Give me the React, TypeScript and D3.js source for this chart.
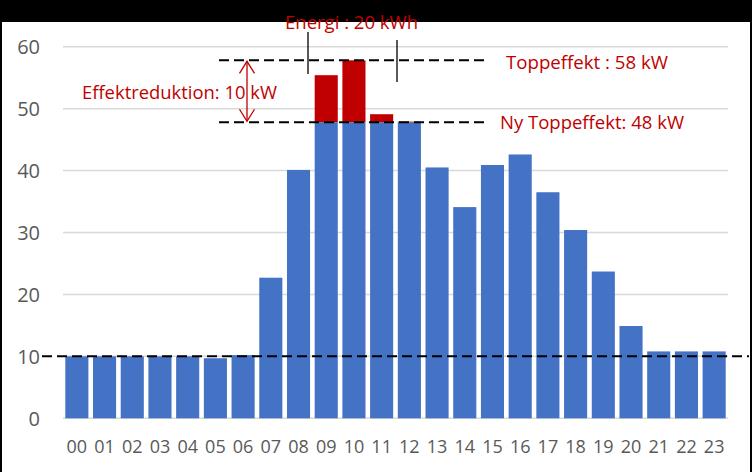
import React from "react";
import * as d3 from "d3";

const hours = ["00","01","02","03","04","05","06","07","08","09","10","11","12","13","14","15","16","17","18","19","20","21","22","23"];
const load = [10.0,10.0,10.0,10.0,10.0,9.7,10.2,22.7,40.1,55.4,57.8,49.1,47.9,40.5,34.1,40.9,42.6,36.5,30.4,23.7,14.9,10.8,10.8,10.8];
const newPeak = 47.8;
const oldPeak = 57.8;
const baseLoad = 10;
const yTicks = [0,10,20,30,40,50,60];

const W = 752, H = 472;
const FONT = "'Open Sans', 'Noto Sans', sans-serif";
const BLUE = "#4472C4";
const RED = "#C00000";
const GRAY = "#595959";

export default function App() {
  const x = d3.scaleBand<string>().domain(hours).range([63, 728]).paddingInner(1/6).paddingOuter(1/12);
  const y = d3.scaleLinear().domain([0, 60]).range([418.3, 46.7]);

  const rows = hours.map((h, i) => ({
    h,
    v: load[i],
    blue: load[i] > newPeak ? newPeak : load[i],
    red: load[i] > newPeak ? load[i] - newPeak : 0,
  }));

  const arrowX = 247;
  const yTop = y(oldPeak);
  const yBot = y(newPeak);

  return (
    <svg width={W} height={H} style={{ position: "absolute", left: 0, top: 0, background: "#fff" }} fontFamily={FONT}>
      <rect x={0} y={0} width={W} height={H} fill="#fff" />
      {/* gridlines */}
      {yTicks.map(t => (
        <line key={t} x1={63} x2={728} y1={y(t)} y2={y(t)} stroke="#d9d9d9" strokeWidth={1.5} />
      ))}
      {/* y tick labels */}
      {yTicks.map(t => (
        <text key={"yl" + t} x={40} y={y(t)} dy="0.36em" textAnchor="end" fontSize={20} fill={GRAY}>{t}</text>
      ))}
      {/* bars */}
      {rows.map(r => (
        <g key={r.h}>
          <rect x={x(r.h)} width={x.bandwidth()} y={y(r.blue)} height={y(0) - y(r.blue)} fill={BLUE} />
          {r.red > 0 && (
            <rect x={x(r.h)} width={x.bandwidth()} y={y(r.blue + r.red)} height={y(r.blue) - y(r.blue + r.red)} fill={RED} />
          )}
        </g>
      ))}
      {/* x tick labels */}
      {hours.map(h => (
        <text key={"xl" + h} x={(x(h) as number) + x.bandwidth() / 2} y={453} textAnchor="middle" fontSize={18} fill={GRAY}>{h}</text>
      ))}
      {/* dashed reference lines */}
      <line x1={219} x2={488} y1={yTop} y2={yTop} stroke="#000" strokeWidth={2} strokeDasharray="10 5" />
      <line x1={219} x2={488} y1={yBot} y2={yBot} stroke="#000" strokeWidth={2} strokeDasharray="10 5" />
      <line x1={42} x2={749} y1={y(baseLoad)} y2={y(baseLoad)} stroke="#000" strokeWidth={2} strokeDasharray="10 5" />
      {/* double arrow */}
      <g stroke={RED} strokeWidth={1.3} fill="none">
        <line x1={arrowX} x2={arrowX} y1={yTop + 1} y2={yBot - 1} />
        <polyline points={`${arrowX - 7.5},${yTop + 13} ${arrowX},${yTop + 1} ${arrowX + 7.5},${yTop + 13}`} />
        <polyline points={`${arrowX - 7.5},${yBot - 13} ${arrowX},${yBot - 1} ${arrowX + 7.5},${yBot - 13}`} />
      </g>
      {/* annotation texts */}
      <text x={82} y={99} fontSize={18} fill={RED} textLength={195} lengthAdjust="spacingAndGlyphs">Effektreduktion: 10 kW</text>
      <text x={506} y={69} fontSize={18} fill={RED} textLength={162} lengthAdjust="spacingAndGlyphs">Toppeffekt : 58 kW</text>
      <text x={500} y={129} fontSize={18} fill={RED} textLength={184} lengthAdjust="spacingAndGlyphs">Ny Toppeffekt: 48 kW</text>
      {/* energy bracket lines */}
      <line x1={308} x2={308} y1={32} y2={74} stroke="#000" strokeWidth={1.3} />
      <line x1={397} x2={397} y1={40} y2={82} stroke="#000" strokeWidth={1.3} />
      {/* frame */}
      <rect x={0} y={0} width={W} height={22} fill="#000" />
      <rect x={0} y={0} width={2} height={H} fill="#000" />
      <rect x={750} y={0} width={2} height={H} fill="#000" />
      {/* energy label drawn over the black band */}
      <text x={285} y={28.5} fontSize={18} fill={RED} textLength={133} lengthAdjust="spacingAndGlyphs">Energi : 20 kWh</text>
    </svg>
  );
}
